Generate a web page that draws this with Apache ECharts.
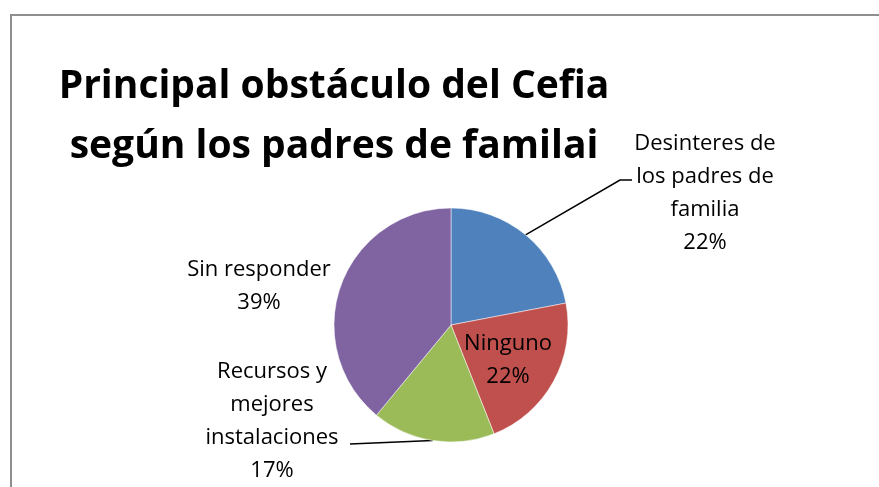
<!DOCTYPE html>
<html>
<head>
<meta charset="utf-8">
<script src="https://cdn.jsdelivr.net/npm/echarts@6/dist/echarts.min.js"></script>
<style>
    html, body { margin: 0; padding: 0; background: #fff; }
    #frame {
        position: absolute; left: 10px; top: 14px; right: 0; bottom: 0;
        border-top: 2px solid #8e8e8e; border-left: 2px solid #8e8e8e;
    }
    #chart { position: absolute; left: 0; top: 0; width: 879px; height: 487px; }
</style>
</head>
<body>
<div id="frame"></div>
<div id="chart"></div>
<script>
// categorias y porcentajes
var categories = ['Desinteres de\nlos padres de\nfamilia', 'Ninguno', 'Recursos y\nmejores\ninstalaciones', 'Sin responder'];
var values = [22, 22, 17, 39];
var colors = ['#4F81BD', '#C0504D', '#9BBB59', '#8064A2'];

// donde Excel dejo cada etiqueta
var labelPlaces = [
    {x: 705, y: 193, align: 'center', verticalAlign: 'middle'},
    {x: 508, y: 360, align: 'center', verticalAlign: 'middle'},
    {x: 272, y: 421, align: 'center', verticalAlign: 'middle'},
    {x: 259, y: 286, align: 'center', verticalAlign: 'middle'}
];
// fin de la linea guia (null = sin linea)
var leaderEnds = [
    [[620, 180], [632, 180]],
    null,
    [[350, 444]],
    null
];

var font = '"Open Sans", "Noto Sans", sans-serif';

var dom = document.getElementById('chart');
var myChart = echarts.init(dom);
var option = {
    animation: false,
    title: {
        text: 'Principal obstáculo del Cefia\nsegún los padres de familai',
        left: 329,
        top: 52,
        textAlign: 'center',
        textStyle: {
            fontFamily: font,
            fontWeight: 'bold',
            fontSize: 39,
            lineHeight: 60,
            color: '#000'
        }
    },
    series: [
        {
            type: 'pie',
            center: [451, 325],
            radius: 117,
            startAngle: 90,
            clockwise: true,
            avoidLabelOverlap: false,
            itemStyle: {borderColor: '#fff', borderWidth: 0.5},
            label: {
                formatter: '{b}\n{d}%',
                fontFamily: font,
                fontSize: 22,
                lineHeight: 33,
                color: '#000',
                align: 'center'
            },
            labelLine: {
                lineStyle: {color: '#000', width: 1.5}
            },
            labelLayout: function (params) {
                var place = Object.assign({}, labelPlaces[params.dataIndex]);
                var ends = leaderEnds[params.dataIndex];
                if (ends && params.labelLinePoints) {
                    place.labelLinePoints = [params.labelLinePoints[0]].concat(ends);
                }
                return place;
            },
            data: categories.map(function (name, i) {
                return {
                    name: name,
                    value: values[i],
                    itemStyle: {color: colors[i]},
                    labelLine: {show: leaderEnds[i] !== null}
                };
            })
        }
    ]
};
myChart.setOption(option);
</script>
</body>
</html>
